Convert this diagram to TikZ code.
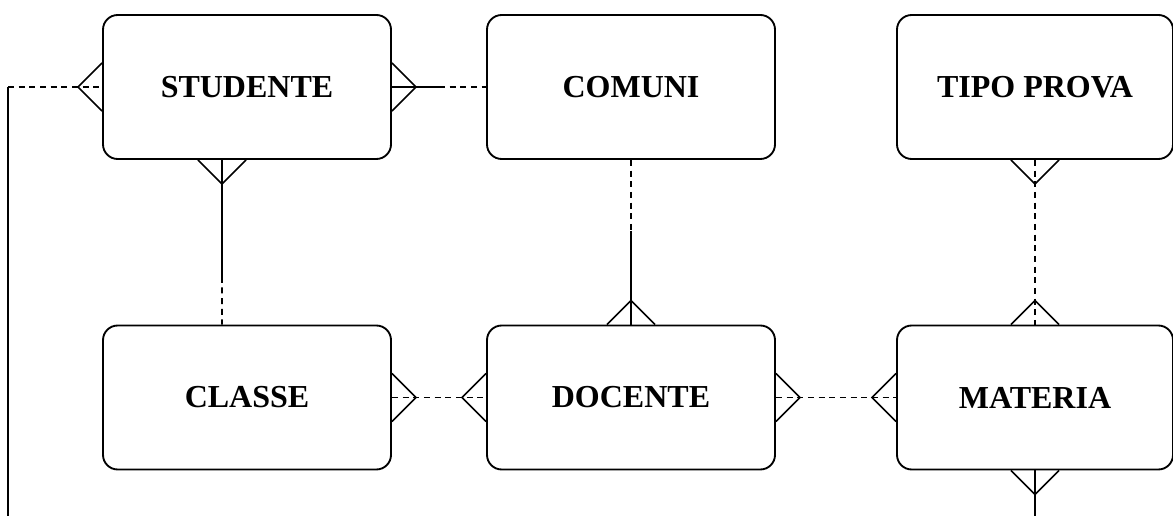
\documentclass[tikz,border=0pt]{standalone}
\usepackage{fontspec}
\setmainfont{Liberation Serif}
\usetikzlibrary{calc}

\tikzset{
  entity/.style={draw, line width=1.4pt, rounded corners=11pt, minimum width=216pt,
    minimum height=108pt, inner sep=0pt, font=\fontsize{24}{28}\selectfont\bfseries},
  narrow/.style={minimum width=207pt},
  rel/.style={line width=1.2pt},
  reldash/.style={rel, dash pattern=on 4.5pt off 3.5pt},
  crowfoot/.pic={\draw[rel] (-24,0) -- (0,24) -- (24,0);}
}

\begin{document}
\begin{tikzpicture}[x=0.75pt,y=0.75pt,yscale=-1,xscale=1]
\useasboundingbox (0,0) rectangle (1173,516);

% entities
\node[entity] (studente) at (247,87) {STUDENTE};
\node[entity] (comuni) at (631,87) {COMUNI};
\node[entity,narrow] (tipo) at (1035,87) {TIPO PROVA};
\node[entity] (classe) at (247,397.5) {CLASSE};
\node[entity] (docente) at (631,397.5) {DOCENTE};
\node[entity,narrow] (materia) at (1035,397.5) {MATERIA};

% studente, line coming up from below on the left
\coordinate (lbot) at (8,516);
\coordinate (lcorner) at (lbot |- studente.west);
\draw[rel] (lbot) -- (lcorner);
\draw[reldash] (lcorner) -- (studente.west);
\pic[rotate=90] at (studente.west) {crowfoot};

% studente - comuni
\coordinate (sc) at ($(studente.east)!0.5!(comuni.west)$);
\draw[rel] (studente.east) -- (sc);
\draw[reldash] (sc) -- (comuni.west);
\pic[rotate=-90] at (studente.east) {crowfoot};

% studente - classe
\coordinate (stop) at ($(studente.south)+(-25,0)$);
\coordinate (sbot) at ($(classe.north)+(-25,0)$);
\coordinate (ssplit) at ($(stop)!0.71!(sbot)$);
\draw[rel] (stop) -- (ssplit);
\draw[reldash] (ssplit) -- (sbot);
\pic[rotate=180] at (stop) {crowfoot};

% comuni - docente
\coordinate (cd) at ($(comuni.south)!0.43!(docente.north)$);
\draw[reldash] (comuni.south) -- (cd);
\draw[rel] (cd) -- (docente.north);
\pic at (docente.north) {crowfoot};

% tipo prova - materia
\draw[reldash] (tipo.south) -- (materia.north);
\pic[rotate=180] at (tipo.south) {crowfoot};
\pic at (materia.north) {crowfoot};

% classe - docente
\draw[reldash] (classe.east) -- (docente.west);
\pic[rotate=-90] at (classe.east) {crowfoot};
\pic[rotate=90] at (docente.west) {crowfoot};

% docente - materia
\draw[reldash] (docente.east) -- (materia.west);
\pic[rotate=-90] at (docente.east) {crowfoot};
\pic[rotate=90] at (materia.west) {crowfoot};

% materia, line going down
\coordinate (mbot) at (materia.south |- lbot);
\draw[rel] (materia.south) -- (mbot);
\pic[rotate=180] at (materia.south) {crowfoot};

\end{tikzpicture}
\end{document}
